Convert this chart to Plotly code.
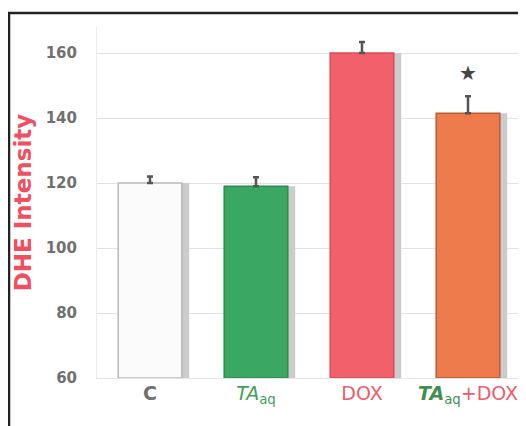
import plotly.graph_objects as go

categories = ["C", "TAaq", "DOX", "TAaq+DOX"]
tick_labels = [
    "<b>C</b>",
    "<span style='color:#3f9f55'><i>TA</i><sub>aq</sub></span>",
    "<span style='color:#f05a68'>DOX</span>",
    "<span style='color:#3f8f50'><b><i>TA</i></b><sub>aq</sub></span><span style='color:#f05a68'>+DOX</span>",
]
values = [120, 119, 160, 141.5]
errors = [2, 2.8, 3.4, 5.2]
bar_colors = ["#fbfbfb", "#3aa763", "#f2606b", "#ee7b4b"]
line_colors = ["#b8b8b8", "#2e8a50", "#d84c58", "#b85a38"]
star_value = 154

x = list(range(len(categories)))
heights = [v - 60 for v in values]

fig = go.Figure()
# shadow
fig.add_trace(go.Bar(
    x=x, y=heights, base=60, width=0.6, offset=-0.3 + 0.07,
    marker=dict(color="#cccccc", line=dict(width=0)),
    hoverinfo="skip", showlegend=False,
))
fig.add_trace(go.Bar(
    x=x, y=heights, base=60, width=0.6, offset=-0.3,
    marker=dict(color=bar_colors, line=dict(color=line_colors, width=1.5)),
    showlegend=False,
))
fig.add_trace(go.Scatter(
    x=x, y=values, mode="markers", marker=dict(size=1, color="rgba(0,0,0,0)"),
    error_y=dict(type="data", array=errors, arrayminus=[0]*4, symmetric=False,
                 color="#555555", thickness=2.5, width=3),
    showlegend=False, hoverinfo="skip",
))

fig.add_annotation(x=3, y=star_value, text="★", showarrow=False,
                   font=dict(size=20, color="#444444", family="DejaVu Sans"))

fig.add_shape(type="rect", xref="paper", yref="paper",
              x0=-0.2075, x1=1.06, y0=-0.2, y1=1.04,
              line=dict(color="#222222", width=2.5))

fig.update_layout(
    width=518, height=418,
    margin=dict(l=89, r=5, t=19, b=48),
    paper_bgcolor="white", plot_bgcolor="white",
    barmode="overlay",
    xaxis=dict(
        range=[-0.5, 3.5], tickmode="array", tickvals=x, ticktext=tick_labels,
        tickfont=dict(family="DejaVu Sans", size=19, color="#707070"),
        showgrid=False, zeroline=False, showline=True, linecolor="#e4e4e4",
        ticks="", automargin=False, ticklabelstandoff=-2,
    ),
    yaxis=dict(
        range=[60, 168], tickvals=[60, 80, 100, 120, 140, 160],
        tickfont=dict(family="DejaVu Sans", size=15, color="#707070", weight="bold"),
        showgrid=True, gridcolor="#e2e2e2", gridwidth=1, zeroline=False,
        showline=True, linecolor="#ececec", automargin=False,
        ticks="", ticklabelstandoff=16,
        title=dict(text="<b>DHE Intensity</b>", standoff=7,
                   font=dict(family="DejaVu Sans", size=23, color="#f04f5f")),
    ),
)

fig.write_html("out.html")
